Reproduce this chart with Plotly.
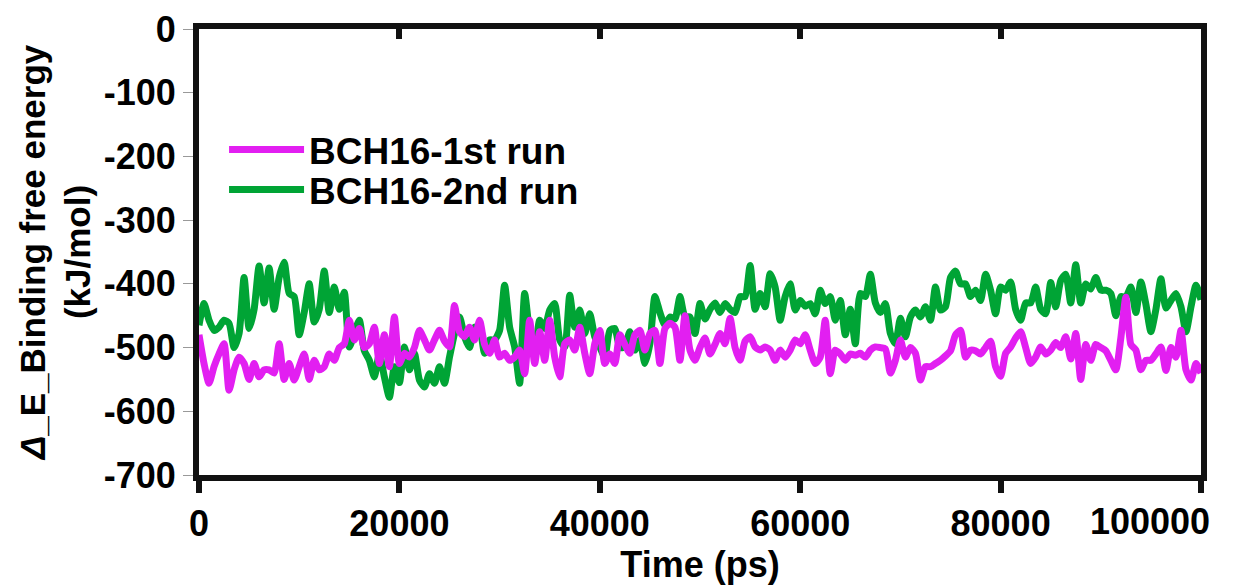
import numpy as np
import plotly.graph_objects as go

# Time axis: one sample every 500 ps, 0 .. 100000 ps
time_ps = np.arange(0, 100001, 500)

run1 = [
    -480, -525, -556, -530, -510, -494, -567, -535, -515, -525,
    -550, -525, -546, -535, -535, -540, -494, -550, -525, -551,
    -530, -510, -550, -520, -535, -530, -510, -520, -500, -494,
    -457, -488, -470, -500, -494, -468, -525, -480, -530, -452,
    -525, -509, -515, -500, -473, -488, -504, -488, -473, -490,
    -499, -434, -475, -483, -468, -488, -457, -495, -509, -488,
    -515, -509, -520, -515, -504, -541, -457, -525, -475, -520,
    -457, -515, -546, -494, -488, -504, -468, -509, -541, -494,
    -473, -525, -510, -525, -480, -495, -509, -480, -473, -504,
    -478, -473, -525, -470, -462, -468, -520, -450, -504, -520,
    -500, -485, -510, -495, -478, -494, -454, -500, -520, -490,
    -483, -499, -504, -499, -504, -520, -504, -515, -504, -488,
    -494, -480, -504, -525, -515, -457, -541, -504, -510, -520,
    -510, -512, -509, -515, -504, -499, -500, -502, -540, -520,
    -488, -515, -500, -509, -551, -530, -530, -525, -520, -513,
    -505, -480, -473, -515, -504, -505, -510, -500, -490, -530,
    -545, -509, -499, -485, -475, -500, -525, -515, -499, -510,
    -504, -492, -500, -483, -518, -478, -550, -495, -520, -495,
    -500, -505, -520, -535, -485, -421, -495, -504, -535, -520,
    -520, -510, -499, -536, -500, -515, -473, -535, -551, -525,
    -540,
]

run2 = [
    -465, -431, -457, -473, -468, -457, -462, -500, -478, -390,
    -470, -440, -372, -430, -375, -440, -390, -366, -415, -420,
    -480, -445, -400, -460, -440, -380, -445, -405, -440, -413,
    -499, -478, -457, -505, -520, -546, -510, -546, -578, -530,
    -555, -499, -535, -509, -551, -562, -541, -556, -530, -556,
    -515, -478, -452, -483, -500, -468, -470, -509, -488, -488,
    -473, -402, -468, -499, -556, -415, -478, -515, -457, -470,
    -441, -431, -488, -499, -418, -468, -441, -478, -447, -483,
    -499, -515, -473, -470, -500, -499, -475, -504, -488, -525,
    -494, -420, -445, -465, -452, -455, -420, -452, -452, -478,
    -431, -455, -440, -430, -445, -431, -440, -445, -420, -420,
    -371, -440, -415, -436, -384, -405, -457, -420, -400, -441,
    -426, -435, -431, -447, -410, -431, -420, -457, -426, -480,
    -440, -494, -415, -420, -385, -430, -445, -431, -478, -494,
    -454, -483, -452, -441, -452, -436, -457, -405, -441, -436,
    -390, -380, -400, -400, -420, -410, -426, -385, -410, -447,
    -405, -410, -397, -440, -457, -430, -430, -405, -440, -447,
    -398, -436, -395, -385, -430, -370, -430, -400, -408, -390,
    -410, -410, -415, -450, -420, -421, -405, -445, -397, -432,
    -475, -440, -392, -438, -426, -415, -436, -475, -436, -402,
    -425,
]

series_names = ["BCH16-1st run", "BCH16-2nd run"]
series_colors = ["#E21FF1", "#00A435"]

x_tick_vals = [0, 20000, 40000, 60000, 80000, 100000]
x_tick_text = ["0", "20000", "40000", "60000", "80000", ""]
last_x_label = "100000"
y_tick_vals = [0, -100, -200, -300, -400, -500, -600, -700]
y_tick_text = ["0", "-100", "-200", "-300", "-400", "-500", "-600", "-700"]

FONT = "Liberation Sans"
INK = "#111111"

fig = go.Figure()
fig.add_trace(go.Scatter(
    x=time_ps, y=run2, mode="lines", name=series_names[1],
    line=dict(color=series_colors[1], width=7, shape="spline", smoothing=0.6),
    legend="legend2",
))
fig.add_trace(go.Scatter(
    x=time_ps, y=run1, mode="lines", name=series_names[0],
    line=dict(color=series_colors[0], width=7, shape="spline", smoothing=0.6),
    legend="legend",
))

legend_style = dict(
    xanchor="left", yanchor="middle", bgcolor="rgba(0,0,0,0)", borderwidth=0,
    font=dict(family=FONT, size=37, color="#000", weight="bold"),
    itemwidth=75,
)

# the page body adds an 8px offset, so the figure is 8px smaller
fig.update_layout(
    width=1227, height=577,
    margin=dict(l=191, r=34, t=21, b=110, autoexpand=False),
    paper_bgcolor="white", plot_bgcolor="white",
    font=dict(family=FONT, size=36, color="#000"),
    showlegend=True,
    legend=dict(x=0.025, y=0.729, **legend_style),
    legend2=dict(x=0.025, y=0.639, **legend_style),
    xaxis=dict(
        range=[0, 100000], tickvals=x_tick_vals, ticktext=x_tick_text,
        ticks="outside", ticklen=12, tickwidth=6, tickcolor=INK,
        showline=True, linewidth=6, linecolor=INK, mirror=True,
        showgrid=False, zeroline=False, automargin=False,
        tickfont=dict(family=FONT, size=36, color="#000", weight="bold"),
        title=dict(text="<b>Time (ps)</b>", standoff=2,
                   font=dict(family=FONT, size=36, color="#000")),
    ),
    xaxis2=dict(
        overlaying="x", side="top", matches="x", range=[0, 100000],
        tickvals=x_tick_vals[1:-1], ticks="inside", ticklen=10, tickwidth=6,
        tickcolor=INK, showticklabels=False, showline=False,
        showgrid=False, zeroline=False, automargin=False,
    ),
    yaxis=dict(
        range=[-700, 0], tickvals=y_tick_vals, ticktext=y_tick_text,
        ticks="outside", ticklen=10, tickwidth=1, tickcolor="#999999",
        showline=True, linewidth=6, linecolor=INK, mirror=True,
        showgrid=False, zeroline=False, automargin=False,
        tickfont=dict(family=FONT, size=36, color="#000", weight="bold"),
        title=dict(text="<b><i>Δ</i>_E_Binding free energy<br>(kJ/mol)</b>",
                   standoff=4,
                   font=dict(family=FONT, size=35, color="#000")),
    ),
)

# invisible helper trace so the top tick axis is rendered
fig.add_trace(go.Scatter(x=[0], y=[None], xaxis="x2", showlegend=False,
                         hoverinfo="skip"))

fig.add_annotation(
    x=100000, y=0, xref="x", yref="paper", text="<b>" + last_x_label + "</b>",
    showarrow=False, xanchor="right", yanchor="top", xshift=11, yshift=-24,
    font=dict(family=FONT, size=36, color="#000"),
)

fig.write_html("out.html")
